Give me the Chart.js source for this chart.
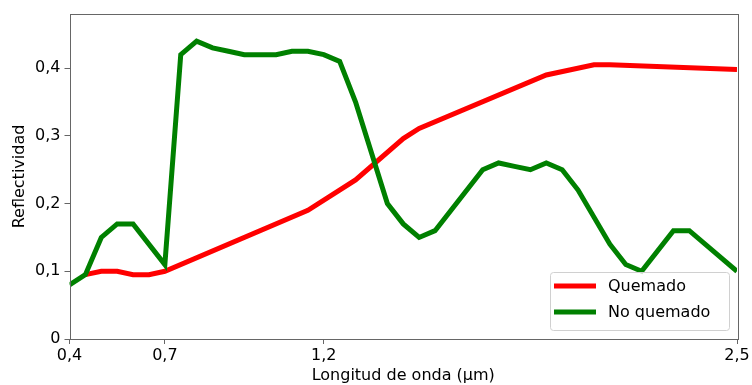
<!DOCTYPE html>
<html>
<head>
<meta charset="utf-8">
<script src="https://cdn.jsdelivr.net/npm/chart.js@4.4.1/dist/chart.umd.min.js"></script>
<style>
    html, body { margin: 0; padding: 0; background: #fff; }
    #wrap { width: 752px; height: 385px; position: relative; }
</style>
</head>
<body>
<div id="wrap"><canvas id="grafica"></canvas></div>
<script>
// datos
const xNoQuemado = [0.4, 0.45, 0.5, 0.55, 0.6, 0.7, 0.75, 0.8, 0.85, 0.9, 0.95, 1.05, 1.1, 1.15, 1.2, 1.25, 1.3, 1.4, 1.45, 1.5, 1.55, 1.7, 1.75, 1.8, 1.85, 1.9, 1.95, 2.0, 2.1, 2.15, 2.2, 2.3, 2.35, 2.5];
const yNoQuemado = [0.08, 0.095, 0.15, 0.17, 0.17, 0.11, 0.42, 0.44, 0.43, 0.425, 0.42, 0.42, 0.425, 0.425, 0.42, 0.41, 0.35, 0.2, 0.17, 0.15, 0.16, 0.25, 0.26, 0.255, 0.25, 0.26, 0.25, 0.22, 0.14, 0.11, 0.1, 0.16, 0.16, 0.1];
const xQuemado = [0.45, 0.5, 0.55, 0.6, 0.65, 0.7, 1.15, 1.3, 1.45, 1.5, 1.9, 2.05, 2.1, 2.5];
const yQuemado = [0.095, 0.1, 0.1, 0.095, 0.095, 0.1, 0.19, 0.235, 0.296, 0.311, 0.39, 0.405, 0.405, 0.398];
const ticksX = [0.4, 0.7, 1.2, 2.5];
const ticksY = [0, 0.1, 0.2, 0.3, 0.4];
const series = ['Quemado', 'No quemado'];

const fuente = { family: 'DejaVu Sans', size: 16 };
const coma = v => String(v).replace('.', ',');

// leyenda abajo a la derecha, dentro del area
const leyendaPlugin = {
    id: 'leyendaDentro',
    afterDatasetsDraw(chart) {
        const ctx = chart.ctx;
        const area = chart.chartArea;
        const w = 179, h = 58;
        const x0 = area.right - 8 - w;
        const y0 = area.bottom - 9 - h;
        ctx.save();
        ctx.globalAlpha = 0.8;
        ctx.fillStyle = '#fff';
        ctx.strokeStyle = '#d0d0d0';
        ctx.lineWidth = 1;
        ctx.beginPath();
        ctx.roundRect(x0 + 0.5, y0 + 0.5, w, h, 3);
        ctx.fill();
        ctx.globalAlpha = 1;
        ctx.stroke();
        ctx.font = '16px "DejaVu Sans"';
        ctx.textBaseline = 'middle';
        ctx.fillStyle = '#000';
        chart.data.datasets.forEach((ds, i) => {
            const yy = y0 + 14 + i * 26;
            ctx.strokeStyle = ds.borderColor;
            ctx.lineWidth = 5;
            ctx.beginPath();
            ctx.moveTo(x0 + 4, yy);
            ctx.lineTo(x0 + 46, yy);
            ctx.stroke();
            ctx.fillText(ds.label, x0 + 58, yy + 1);
        });
        ctx.restore();
    }
};

// marco completo alrededor del area
const marcoPlugin = {
    id: 'marco',
    afterDraw(chart) {
        const a = chart.chartArea;
        const ctx = chart.ctx;
        ctx.save();
        ctx.strokeStyle = '#666';
        ctx.lineWidth = 1;
        ctx.strokeRect(Math.round(a.left) + 0.5, Math.round(a.top) + 0.5, Math.round(a.right - a.left), Math.round(a.bottom - a.top));
        ctx.restore();
    }
};

const ctx = document.getElementById('grafica').getContext('2d');
const grafica = new Chart(ctx, {
    type: 'line',
    data: {
        datasets: [{
            label: series[0],
            data: xQuemado.map((x, i) => ({ x: x, y: yQuemado[i] })),
            borderColor: '#ff0000',
            borderWidth: 5,
            pointRadius: 0,
            tension: 0,
            clip: 0,
            order: 2
        }, {
            label: series[1],
            data: xNoQuemado.map((x, i) => ({ x: x, y: yNoQuemado[i] })),
            borderColor: '#008000',
            borderWidth: 5,
            pointRadius: 0,
            tension: 0,
            clip: 0,
            order: 1
        }]
    },
    options: {
        responsive: true,
        maintainAspectRatio: false,
        animation: false,
        layout: { padding: { top: 14, right: 15, left: 0, bottom: 0 } },
        plugins: {
            legend: { display: false },
            tooltip: { enabled: false }
        },
        scales: {
            x: {
                type: 'linear',
                min: 0.4,
                max: 2.5,
                afterBuildTicks: s => { s.ticks = ticksX.map(v => ({ value: v })); },
                afterFit: s => { s.height = 46; },
                grid: { drawOnChartArea: false, tickLength: 5, color: '#666' },
                border: { display: false },
                ticks: { color: '#000', font: fuente, padding: 2, maxRotation: 0, callback: v => coma(v) },
                title: { display: true, text: 'Longitud de onda (µm)', color: '#000', font: fuente, padding: { top: 0, bottom: 0 } }
            },
            y: {
                min: 0,
                max: 0.48,
                afterBuildTicks: s => { s.ticks = ticksY.map(v => ({ value: v })); },
                afterFit: s => { s.width = 69.5; },
                grid: { drawOnChartArea: false, tickLength: 5, color: '#666' },
                border: { display: false },
                ticks: { color: '#000', font: fuente, padding: 4, callback: v => coma(v) },
                title: { display: true, text: 'Reflectividad', color: '#000', font: fuente, padding: { top: 10, bottom: 0 } }
            }
        }
    },
    plugins: [leyendaPlugin, marcoPlugin]
});
</script>
</body>
</html>
